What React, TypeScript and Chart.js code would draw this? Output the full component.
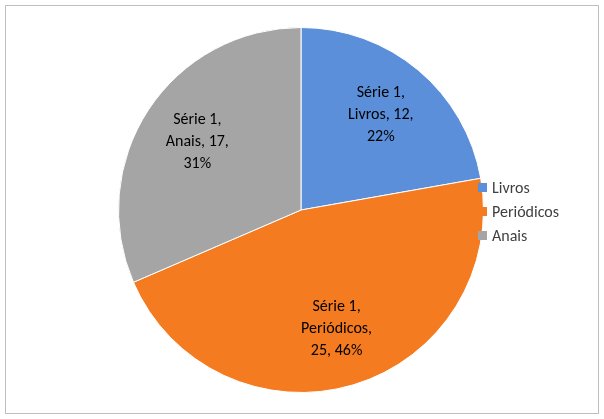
import { useEffect, useRef } from 'react';
import Chart from 'chart.js/auto';

const seriesName = 'Série 1';
const categories = ['Livros', 'Periódicos', 'Anais'];
const values = [12, 25, 17];
const colors = ['#5B8FD9', '#F47B1F', '#A5A5A5'];

const FONT = 'Carlito, Lato, "Liberation Sans", sans-serif';

const labelPlugin = {
  id: 'sliceLabels',
  afterDatasetsDraw(chart: any) {
    const ctx = chart.ctx;
    const meta = chart.getDatasetMeta(0);
    const total = values.reduce((a, b) => a + b, 0);
    ctx.save();
    ctx.fillStyle = '#000';
    ctx.font = `16px ${FONT}`;
    ctx.textAlign = 'center';
    ctx.textBaseline = 'middle';
    meta.data.forEach((arc: any, i: number) => {
      const mid = (arc.startAngle + arc.endAngle) / 2;
      const r = arc.outerRadius * 0.68;
      const x = arc.x + Math.cos(mid) * r;
      const y = arc.y + Math.sin(mid) * r;
      const pct = Math.round((values[i] / total) * 100);
      const lines =
        categories[i].length > 8
          ? [`${seriesName},`, `${categories[i]},`, `${values[i]}, ${pct}%`]
          : [`${seriesName},`, `${categories[i]}, ${values[i]},`, `${pct}%`];
      lines.forEach((t, j) => ctx.fillText(t, x, y + (j - 1) * 22));
    });
    ctx.restore();
  },
};

export default function App() {
  const canvasRef = useRef<HTMLCanvasElement>(null);

  useEffect(() => {
    document.body.style.margin = '0';
    let chart: Chart | null = null;
    if (canvasRef.current) {
      chart = new Chart(canvasRef.current, {
        type: 'pie',
        data: {
          labels: categories,
          datasets: [{
            label: seriesName,
            data: values,
            backgroundColor: colors,
            borderColor: '#ffffff',
            borderWidth: 1,
          }],
        },
        options: {
          animation: false,
          responsive: false,
          layout: { padding: { top: 27, bottom: 26, left: 118, right: 120 } },
          plugins: { legend: { display: false }, tooltip: { enabled: false } },
        },
        plugins: [labelPlugin],
      });
    }
    return () => {
      if (chart) chart.destroy();
    };
  }, []);

  return (
    <div style={{ position: 'relative', width: 604, height: 419, background: '#fff' }}>
      <div style={{ position: 'absolute', left: 5, top: 5, width: 592, height: 407, border: '1px solid #bfbfbf' }} />
      <canvas ref={canvasRef} width={604} height={419} style={{ position: 'absolute', left: 0, top: 0 }} />
      <div style={{ position: 'absolute', left: 478, top: 175, fontFamily: FONT, fontSize: 16, color: '#404040' }}>
        {categories.map((c, i) => (
          <div key={c} style={{ display: 'flex', alignItems: 'center', height: 24 }}>
            <span style={{ width: 9, height: 9, background: colors[i], marginRight: 5, display: 'inline-block' }} />
            {c}
          </div>
        ))}
      </div>
    </div>
  );
}
